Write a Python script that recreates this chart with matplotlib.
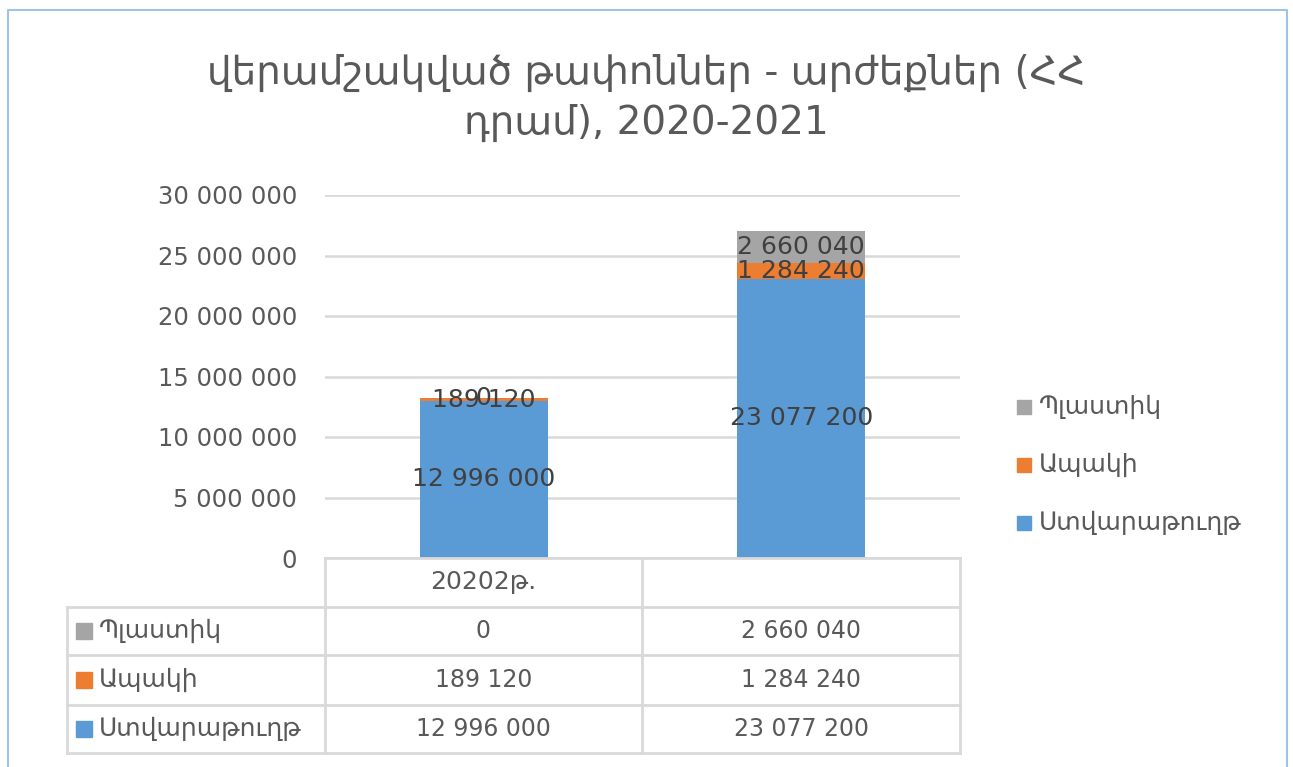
import matplotlib.pyplot as plt
from matplotlib.lines import Line2D
from matplotlib.patches import Rectangle

plt.rcParams["font.family"] = ["DejaVu Sans"]

TITLE = "վերամշակված թափոններ - արժեքներ (ՀՀ\nդրամ), 2020-2021"
categories = ["20202թ.", ""]
series = ["Ստվարաթուղթ", "Ապակի", "Պլաստիկ"]
cardboard = [12996000, 23077200]
glass = [189120, 1284240]
plastic = [0, 2660040]
colors = ["#5B9BD5", "#ED7D31", "#A5A5A5"]
yticks = [0, 5000000, 10000000, 15000000, 20000000, 25000000, 30000000]

TXT = "#595959"
GRID = "#D9D9D9"
W, H = 1293, 767


def fmt(v):
    return f"{v:,}".replace(",", " ")


def fx(px):
    return px / W


def fy(py):
    return 1 - py / H


fig = plt.figure(figsize=(W / 100, H / 100), dpi=100)
fig.patch.set_facecolor("white")

# chart frame (light blue border of the embedded chart)
fig.add_artist(Line2D([fx(8), fx(8), fx(1287), fx(1287)],
                      [fy(767), fy(10), fy(10), fy(767)],
                      color="#9DC3E6", lw=1.5))

ax = fig.add_axes([fx(325), fy(558), fx(960) - fx(325), fy(195) - fy(558)])
values = [cardboard, glass, plastic]
x = list(range(len(categories)))
bottom = [0] * len(categories)
for name, vals, c in zip(series, values, colors):
    ax.bar(x, vals, width=0.404, bottom=bottom, color=c, zorder=3)
    for i, v in enumerate(vals):
        ax.text(x[i], bottom[i] + v / 2, fmt(v), ha="center", va="center",
                fontsize=18, color="#404040", zorder=4)
    bottom = [b + v for b, v in zip(bottom, vals)]

ax.set_xlim(-0.5, len(categories) - 0.5)
ax.set_ylim(0, 30000000)
ax.set_yticks(yticks)
ax.set_yticklabels([fmt(t) for t in yticks], fontsize=17.5, color=TXT)
ax.tick_params(axis="y", length=0, pad=20)
ax.set_xticks([])
ax.grid(axis="y", color=GRID, lw=1.8, zorder=0)
for s in ax.spines.values():
    s.set_visible(False)

fig.text(0.5, fy(98), TITLE, ha="center", va="center", fontsize=28,
         color=TXT, linespacing=1.4)

# legend on the right
for k, (name, c) in enumerate(zip(reversed(series), reversed(colors))):
    yy = 407 + k * 58
    fig.add_artist(Rectangle((fx(1017), fy(yy + 7)), fx(14), 14 / H,
                             color=c, transform=fig.transFigure))
    fig.text(fx(1039), fy(yy), name, ha="left", va="center", fontsize=18,
             color=TXT)

# data table under the axis
line_kw = dict(color=GRID, lw=2)
col_x = [67, 325, 642, 960]
row_y = [558, 607, 655, 705, 753]
fig.add_artist(Line2D([fx(325), fx(960)], [fy(558), fy(558)], **line_kw))
for yy in row_y[1:]:
    fig.add_artist(Line2D([fx(67), fx(960)], [fy(yy), fy(yy)], **line_kw))
for xx in col_x[1:]:
    fig.add_artist(Line2D([fx(xx), fx(xx)], [fy(558), fy(753)], **line_kw))
fig.add_artist(Line2D([fx(67), fx(67)], [fy(607), fy(753)], **line_kw))

for i, cat in enumerate(categories):
    cx = (col_x[i + 1] + col_x[i + 2]) / 2
    fig.text(fx(cx), fy(582), cat, ha="center", va="center", fontsize=18,
             color=TXT)

for r, (name, vals, c) in enumerate(zip(reversed(series), reversed(values),
                                        reversed(colors))):
    cy = (row_y[r + 1] + row_y[r + 2]) / 2
    fig.add_artist(Rectangle((fx(76), fy(cy + 8)), fx(16), 16 / H,
                             color=c, transform=fig.transFigure))
    fig.text(fx(99), fy(cy), name, ha="left", va="center", fontsize=18,
             color=TXT)
    for i, v in enumerate(vals):
        cx = (col_x[i + 1] + col_x[i + 2]) / 2
        fig.text(fx(cx), fy(cy), fmt(v), ha="center", va="center",
                 fontsize=17, color=TXT)

fig.savefig("out.png", dpi=100)
